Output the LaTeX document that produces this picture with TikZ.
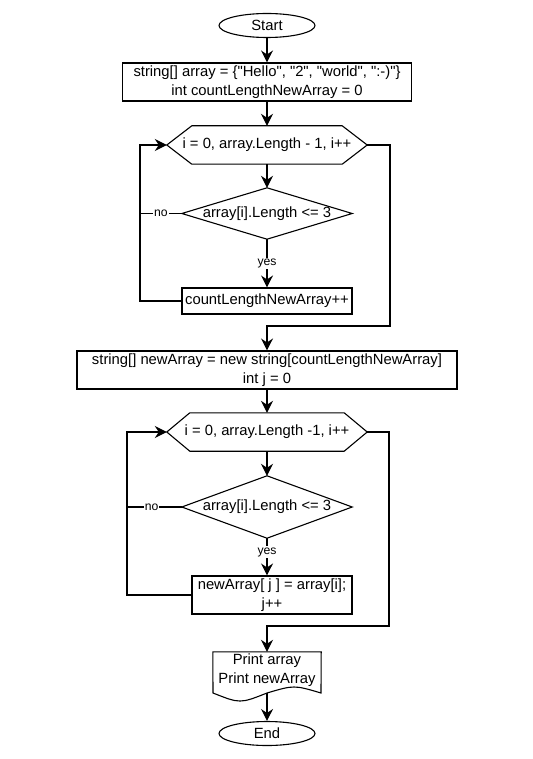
\documentclass[tikz,border=0pt]{standalone}
\usepackage{fontspec}
\setmainfont{Liberation Sans}[Ligatures=TeXOff]
\usetikzlibrary{arrows.meta,calc,shapes.geometric}
\begin{document}
\begin{tikzpicture}[x=1pt,y=-1pt,
  txt/.style={font=\fontsize{14.8}{18.5}\selectfont, align=center, inner sep=0pt},
  term/.style={txt, draw, ellipse, line width=1.1pt, minimum width=96pt, minimum height=24pt},
  proc/.style={txt, draw, line width=1.1pt},
  shapebox/.style={txt},
  outline/.style={line width=1.1pt, line join=miter},
  flow/.style={line width=1.1pt, -{Stealth[length=12pt,width=12pt,inset=4pt]}},
  plain/.style={line width=1.1pt},
  lbl/.style={fill=white, font=\fontsize{12.2}{14}\selectfont, inner sep=1pt},
]
\useasboundingbox (0,0) rectangle (532,759);

% terminals
\node[term] (start) at (267,25.5) {Start};
\node[term] (finish) at (267,733.5) {End};

% initialisation
\node[proc, minimum width=289pt, minimum height=38pt] (init) at (267,82)
  {string[] array = \{"Hello", "2", "world", ":-)"\}\\int countLengthNewArray = 0};

% first loop header (hexagon)
\node[shapebox, minimum width=200pt, minimum height=38pt] (loopA) at (267,145)
  {i = 0, array.Length - 1, i++};
\draw[outline] (loopA.west) -- ([xshift=25pt]loopA.north west) -- ([xshift=-25pt]loopA.north east)
  -- (loopA.east) -- ([xshift=-25pt]loopA.south east) -- ([xshift=25pt]loopA.south west) -- cycle;

% first condition (diamond)
\node[shapebox, minimum width=170pt, minimum height=51pt] (condA) at (267,213.5)
  {array[i].Length <= 3};
\draw[outline] (condA.west) -- (condA.north) -- (condA.east) -- (condA.south) -- cycle;

\node[proc, minimum width=170pt, minimum height=26pt] (countA) at (267,301)
  {countLengthNewArray++};

% new array
\node[proc, minimum width=380pt, minimum height=38pt] (alloc) at (267,370)
  {string[] newArray = new string[countLengthNewArray]\\int j = 0};

% second loop header (hexagon)
\node[shapebox, minimum width=200pt, minimum height=38pt] (loopB) at (267,432)
  {i = 0, array.Length -1, i++};
\draw[outline] (loopB.west) -- ([xshift=23pt]loopB.north west) -- ([xshift=-23pt]loopB.north east)
  -- (loopB.east) -- ([xshift=-23pt]loopB.south east) -- ([xshift=23pt]loopB.south west) -- cycle;

% second condition (diamond)
\node[shapebox, minimum width=170pt, minimum height=62pt] (condB) at (267,507)
  {array[i].Length <= 3};
\draw[outline] (condB.west) -- (condB.north) -- (condB.east) -- (condB.south) -- cycle;

\node[proc, minimum width=160pt, minimum height=38pt] (copyB) at (272,595)
  {newArray[ j ] = array[i];\\j++};

% output document
\node[shapebox, minimum width=108pt, minimum height=36pt] (print) at (267,670)
  {Print array\\Print newArray};
\draw[outline] (print.north west) -- (print.north east) -- (321,693)
  .. controls (294,685) .. (267,693)
  .. controls (240,703.7) .. (213,693) -- cycle;
\coordinate (printB) at (267,693);

% routing points
\coordinate (retA) at (140,145);
\coordinate (exitA) at (390,326);
\coordinate (retB) at (127,432);
\coordinate (exitB) at (389,626);

% connectors
\draw[flow] (start) -- (init);
\draw[flow] (init) -- (loopA);
\draw[flow] (loopA) -- (condA);
\draw[flow] (condA.south) -- node[lbl] {yes} (countA.north);
\draw[plain] (condA.west) -- node[lbl] {no} (condA.west -| retA);
\draw[flow] (countA.west) -| (retA) -- (loopA.west);
\draw[flow] (loopA.east) -| (exitA) -| (alloc.north);

\draw[flow] (alloc) -- (loopB);
\draw[flow] (loopB) -- (condB);
\draw[flow] (condB.south) -- node[lbl, pos=0.37] {yes} (condB.south |- copyB.north);
\draw[plain] (condB.west) -- node[lbl, pos=0.55] {no} (condB.west -| retB);
\draw[flow] (copyB.west) -| (retB) -- (loopB.west);
\draw[flow] (loopB.east) -| (exitB) -| (print.north);

\draw[flow] (printB) -- (finish);
\end{tikzpicture}
\end{document}
